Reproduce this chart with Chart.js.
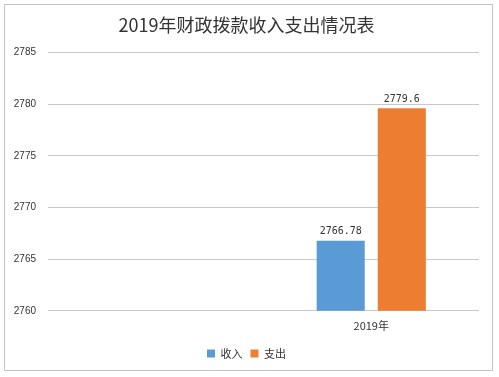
<!DOCTYPE html>
<html><head><meta charset="utf-8">
<script src="https://cdn.jsdelivr.net/npm/chart.js@4"></script>
<style>
html,body{margin:0;padding:0;background:#fff;}
#box{position:absolute;left:4px;top:4px;width:487px;height:365px;border:1px solid #c4c4c4;background:#fff;}
canvas{display:block;}
</style></head><body>
<div id="box"><canvas id="c" width="487" height="365"></canvas></div>
<script>
const categories = ['', '2019年'];
const seriesNames = ['收入', '支出'];
const income = [null, 2766.78];
const expense = [null, 2779.6];
const labelText = [[null, '2766.78'], [null, '2779.6']];
const yTicks = [2760, 2765, 2770, 2775, 2780, 2785];

const valueLabels = {
  id: 'valueLabels',
  afterDatasetsDraw(chart) {
    const ctx = chart.ctx;
    ctx.save();
    ctx.font = '10px "DejaVu Sans Mono"';
    ctx.fillStyle = '#333';
    ctx.textAlign = 'center';
    ctx.textBaseline = 'bottom';
    chart.data.datasets.forEach((ds, i) => {
      const meta = chart.getDatasetMeta(i);
      meta.data.forEach((bar, j) => {
        const t = labelText[i][j];
        if (t == null) return;
        ctx.fillText(t, bar.x, bar.y - 4);
      });
    });
    ctx.restore();
  }
};

new Chart(document.getElementById('c'), {
  type: 'bar',
  data: {
    labels: categories,
    datasets: [
      { label: seriesNames[0], data: income, backgroundColor: '#5b9bd5', borderWidth: 0 },
      { label: seriesNames[1], data: expense, backgroundColor: '#ed7d31', borderWidth: 0 }
    ]
  },
  options: {
    responsive: false,
    animation: false,
    devicePixelRatio: 1,
    categoryPercentage: 0.567,
    barPercentage: 0.787,
    layout: { padding: { left: 9, right: 13, top: 0, bottom: 1 } },
    plugins: {
      title: {
        display: true,
        text: '2019年财政拨款收入支出情况表',
        color: '#333',
        font: { family: '"Noto Sans CJK SC"', size: 18, weight: 'normal' },
        padding: { top: 9, bottom: 17 }
      },
      legend: {
        position: 'bottom',
        labels: {
          boxWidth: 8, boxHeight: 8, color: '#333',
          font: { family: '"Noto Sans CJK SC"', size: 11 },
          padding: 8
        }
      },
      tooltip: { enabled: false }
    },
    scales: {
      x: {
        grid: { display: false, drawTicks: false },
        border: { display: false },
        ticks: { color: '#333', font: { family: '"Noto Sans CJK SC"', size: 11 }, padding: 8 }
      },
      y: {
        min: 2760, max: 2785,
        afterBuildTicks(axis) { axis.ticks = yTicks.map(v => ({ value: v })); },
        afterFit(axis) { axis.width = 34; },
        grid: { color: '#c8c8c8', drawTicks: false },
        border: { display: false },
        ticks: { color: '#333', font: { family: '"Liberation Sans"', size: 10 }, padding: 12,
          callback: v => String(v) }
      }
    }
  },
  plugins: [valueLabels]
});
</script>
</body></html>
